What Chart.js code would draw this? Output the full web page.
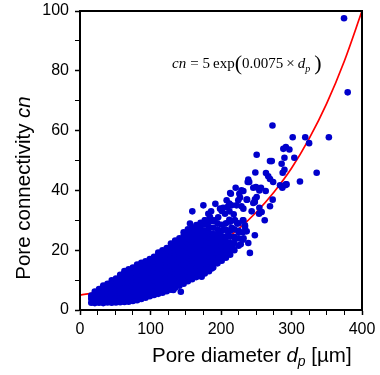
<!DOCTYPE html>
<html lang="en">
<head>
  <meta charset="UTF-8" />
  <title>Pore connectivity vs pore diameter</title>
  <script src="https://cdn.jsdelivr.net/npm/chart.js"></script>
  <style>
    html, body { margin: 0; padding: 0; background: #fff; }
    canvas { display: block; }
  </style>
</head>
<body>
  <canvas id="myChart" width="380" height="375"></canvas>

  <script>
    // axis ticks
    const xMajor = [0, 100, 200, 300, 400];
    const yMajor = [0, 20, 40, 60, 80, 100];

    // fitted curve cn = 5 exp(0.0075 dp)
    const fitDp = [0, 25, 50, 75, 100, 125, 150, 175, 200, 225, 250, 275, 300, 325, 350, 375, 400];
    const fitCn = [5.0, 6.0, 7.3, 8.8, 10.6, 12.8, 15.4, 18.6, 22.4, 27.1, 32.7, 39.4, 47.4, 57.3, 69.1, 83.3, 100];

    // dense part of the cloud, one column of cn values per pore diameter
    const cloudDp = [16, 21, 27, 33, 39, 45, 51, 57, 63, 69, 75, 81, 87, 93, 99, 105, 111, 117, 123, 129,
                     135, 141, 147, 153, 159, 165, 171, 177, 183, 189, 195, 201, 207, 213, 219, 225, 231];
    const cloudCn = [
      [2.4, 3.8, 4.8],
      [2.3, 3.8, 5.3, 6.2],
      [2.4, 4.0, 5.6, 7.0],
      [2.3, 3.9, 5.5, 7.1, 8.2],
      [2.5, 4.1, 5.7, 7.3, 8.8],
      [2.4, 4.0, 5.6, 7.2, 8.8, 9.9],
      [2.5, 4.1, 5.7, 7.3, 8.9, 10.5],
      [2.6, 4.2, 5.8, 7.4, 9.0, 10.6, 11.8],
      [2.7, 4.3, 5.9, 7.5, 9.1, 10.7, 12.3, 13.0],
      [2.8, 4.4, 6.0, 7.6, 9.2, 10.8, 12.4, 13.6],
      [3.0, 4.6, 6.2, 7.8, 9.4, 11.0, 12.6, 14.2],
      [3.3, 4.9, 6.5, 8.1, 9.7, 11.3, 12.9, 14.5, 15.2],
      [3.7, 5.3, 6.9, 8.5, 10.1, 11.7, 13.3, 14.9, 15.8],
      [4.1, 5.7, 7.3, 8.9, 10.5, 12.1, 13.7, 15.3, 16.3],
      [4.6, 6.2, 7.8, 9.4, 11.0, 12.6, 14.2, 15.8, 17.0],
      [5.0, 6.6, 8.2, 9.8, 11.4, 13.0, 14.6, 16.2, 17.8],
      [5.4, 7.0, 8.6, 10.2, 11.8, 13.4, 15.0, 16.6, 18.2, 19.2],
      [5.8, 7.4, 9.0, 10.6, 12.2, 13.8, 15.4, 17.0, 18.6, 20.0],
      [6.3, 7.9, 9.5, 11.1, 12.7, 14.3, 15.9, 17.5, 19.1, 20.7],
      [6.8, 8.4, 10.0, 11.6, 13.2, 14.8, 16.4, 18.0, 19.6, 21.2, 22.2],
      [7.4, 9.0, 10.6, 12.2, 13.8, 15.4, 17.0, 18.6, 20.2, 21.8, 23.2],
      [8.1, 9.7, 11.3, 12.9, 14.5, 16.1, 17.7, 19.3, 20.9, 22.5, 24.0],
      [8.8, 10.4, 12.0, 13.6, 15.2, 16.8, 18.4, 20.0, 21.6, 23.2, 24.8, 26.0],
      [9.6, 11.2, 12.8, 14.4, 16.0, 17.6, 19.2, 20.8, 22.4, 24.0, 25.6, 27.0],
      [10.3, 11.9, 13.5, 15.1, 16.7, 18.3, 19.9, 21.5, 23.1, 24.7, 26.3, 27.6],
      [11.0, 12.6, 14.2, 15.8, 17.4, 19.0, 20.6, 22.2, 23.8, 25.4, 27.0, 28.4],
      [11.4, 13.0, 14.6, 16.2, 17.8, 19.4, 21.0, 22.6, 24.2, 25.8, 27.5, 29.2],
      [12.2, 13.8, 15.4, 17.0, 18.6, 20.2, 21.8, 23.4, 25.0, 26.6, 28.6, 30.0],
      [13.0, 14.6, 16.2, 17.8, 19.4, 21.0, 22.6, 24.2, 25.8, 27.6, 29.4],
      [14.2, 15.8, 17.4, 19.0, 20.6, 22.2, 23.8, 25.4, 27.5, 29.8],
      [15.6, 17.2, 18.8, 20.4, 22.0, 23.6, 25.2, 27.0, 29.0],
      [16.5, 18.1, 19.7, 21.3, 22.9, 24.5, 26.4, 28.5],
      [17.5, 19.5, 21.2, 23.0, 24.6, 26.8, 29.0],
      [18.5, 20.5, 22.4, 24.5, 26.5, 29.5],
      [20.0, 22.5, 24.4, 27.0, 30.0],
      [21.5, 24.0, 26.5, 29.0],
      [23.5, 26.0, 30.0]
    ];

    // scattered points outside the dense band
    const sparseDp = [374.5, 379.7, 301.7, 319.5, 353, 325, 292, 288.4, 297, 273, 250.6, 290, 304, 272, 269.5,
                      286, 290, 287.5, 248.7, 263.8, 267, 269.5, 274, 335.7, 312, 238.7, 237.9, 292, 287, 220.8,
                      229, 231.7, 226, 245.8, 256.7, 254.4, 263.4, 214, 250.6, 248.2, 227, 224.5, 236.4, 208, 211.8,
                      209, 273.3, 245.8, 175, 229, 231.7, 198.6, 203, 254.4, 240, 249.6, 213, 237, 248, 215,
                      159.3, 243.5, 201, 205.7, 182, 184.4, 177.3, 211.8, 219.9, 223, 234, 236.4, 156, 238.7, 241,
                      213.8, 210.3, 248, 262, 257.7, 254, 269.5, 293, 290.8, 283.7, 231.7, 234, 143, 132.4,
                      205, 210, 215, 220, 225, 228, 232, 218, 212, 222, 196, 190, 186, 192,
                      172.6, 186.8, 191.5, 194, 203, 216.5];
    const sparseCn = [97.6, 72.8, 57.8, 57.8, 57.8, 55.8, 54.5, 53.9, 53.7, 61.7, 51.9, 50.9, 50.9, 49.8, 49.8,
                      48.9, 46.9, 45.9, 46.0, 45.8, 44.7, 43.8, 42.8, 45.9, 43.0, 43.6, 42.8, 42.0, 40.9, 40.9,
                      40.0, 39.8, 38.9, 40.9, 40.9, 40.0, 39.8, 38.9, 37.8, 37.0, 37.6, 36.7, 36.9, 36.7, 35.6,
                      34.4, 36.9, 35.8, 35.0, 34.7, 33.9, 33.9, 34.2, 34.2, 42.8, 41.1, 39.1, 36.9, 36.1, 35.0,
                      33.0, 33.0, 33.1, 32.2, 32.2, 31.1, 30.0, 30.2, 30.0, 28.9, 27.8, 26.3, 28.9, 22.4, 19.1,
                      20.2, 19.4, 25.0, 30.0, 32.8, 32.2, 34.7, 42.0, 41.7, 41.7, 30.0, 28.3, 6.1, 6.7,
                      27.0, 25.0, 27.5, 24.0, 26.0, 22.0, 24.0, 32.0, 33.0, 35.0, 31.0, 30.0, 33.0, 35.5,
                      11.1, 13.9, 17.2, 16.7, 18.3, 21.1];

    const points = [];
    cloudDp.forEach((x, i) => cloudCn[i].forEach(y => points.push({ x: x, y: y })));
    sparseDp.forEach((x, i) => points.push({ x: x, y: sparseCn[i] }));
    const fitLine = fitDp.map((x, i) => ({ x: x, y: fitCn[i] }));

    // draw a run of differently styled text pieces left to right
    function drawRuns(ctx, runs, x, y) {
      let cx = x;
      runs.forEach(r => {
        ctx.font = r.font;
        ctx.fillText(r.t, cx, y + (r.dy || 0));
        cx += ctx.measureText(r.t).width + (r.gap || 0);
      });
      return cx - x;
    }
    function runsWidth(ctx, runs) {
      let w = 0;
      runs.forEach(r => { ctx.font = r.font; w += ctx.measureText(r.t).width + (r.gap || 0); });
      return w;
    }

    const labelsPlugin = {
      id: 'labels',
      afterDatasetsDraw(chart) {
        const { ctx, chartArea: a } = chart;
        ctx.save();
        ctx.strokeStyle = '#000';
        ctx.lineWidth = 2;
        ctx.strokeRect(a.left, a.top, a.right - a.left, a.bottom - a.top);
        ctx.restore();
      },
      afterDraw(chart) {
        const { ctx } = chart;
        ctx.save();
        ctx.fillStyle = '#000';
        ctx.textBaseline = 'alphabetic';
        ctx.textAlign = 'left';

        const sans = '"Liberation Sans", Arial, sans-serif';
        const serif = '"Liberation Serif", "Times New Roman", serif';

        // x axis title
        drawRuns(ctx, [
          { t: 'Pore diameter ', font: '20.5px ' + sans },
          { t: 'd', font: 'italic 20.5px ' + sans },
          { t: 'p', font: 'italic 14px ' + sans, dy: 4 },
          { t: ' [\u00b5m]', font: '20.5px ' + sans }
        ], 152, 362);

        // y axis title
        const yRuns = [
          { t: 'Pore connectivity ', font: '20.5px ' + sans },
          { t: 'cn', font: 'italic 20.5px ' + sans }
        ];
        ctx.translate(30, 188);
        ctx.rotate(-Math.PI / 2);
        drawRuns(ctx, yRuns, -runsWidth(ctx, yRuns) / 2, 0);
        ctx.setTransform(1, 0, 0, 1, 0, 0);

        // equation
        drawRuns(ctx, [
          { t: 'cn', font: 'italic 15px ' + serif, gap: 4 },
          { t: '=', font: '15px ' + serif, gap: 4 },
          { t: '5', font: '15px ' + serif, gap: 3 },
          { t: 'exp', font: '15px ' + serif },
          { t: '(', font: '22px ' + serif, dy: 2 },
          { t: '0.0075', font: '15px ' + serif, gap: 3 },
          { t: '\u00d7', font: '15px ' + serif, gap: 3 },
          { t: 'd', font: 'italic 15px ' + serif },
          { t: 'p', font: 'italic 10px ' + serif, dy: 4, gap: 4 },
          { t: ')', font: '22px ' + serif, dy: 2 }
        ], 172, 68);
        ctx.restore();
      }
    };

    const ctx = document.getElementById('myChart').getContext('2d');
    const myChart = new Chart(ctx, {
      type: 'scatter',
      data: {
        datasets: [
          {
            label: 'cn',
            data: points,
            backgroundColor: '#0000CC',
            borderWidth: 0,
            pointRadius: 3.3,
            order: 1
          },
          {
            type: 'line',
            label: 'fit',
            data: fitLine,
            borderColor: '#FF0000',
            borderWidth: 1.7,
            pointRadius: 0,
            fill: false,
            cubicInterpolationMode: 'monotone',
            order: 2
          }
        ]
      },
      options: {
        responsive: false,
        animation: false,
        events: [],
        layout: { padding: { top: 11, right: 18, left: 0, bottom: 0 } },
        plugins: {
          legend: { display: false },
          tooltip: { enabled: false }
        },
        scales: {
          x: {
            type: 'linear',
            min: 0,
            max: 400,
            afterFit: s => { s.height = 65; s.paddingLeft = 0; s.paddingRight = 0; },
            border: { display: true, color: '#000', width: 2 },
            grid: {
              display: true,
              drawOnChartArea: false,
              drawTicks: true,
              tickLength: 5,
              tickColor: '#000',
              tickWidth: c => xMajor.includes(c.tick.value) ? 1.5 : 1
            },
            ticks: {
              stepSize: 25,
              autoSkip: false,
              maxRotation: 0,
              padding: 5,
              color: '#000',
              font: { family: '"Liberation Sans", Arial, sans-serif', size: 16 },
              callback: v => xMajor.includes(v) ? String(v) : ''
            }
          },
          y: {
            type: 'linear',
            min: 0,
            max: 100,
            afterFit: s => { s.width = 80; s.paddingTop = 0; s.paddingBottom = 0; },
            border: { display: true, color: '#000', width: 2 },
            grid: {
              display: true,
              drawOnChartArea: false,
              drawTicks: true,
              tickLength: 5,
              tickColor: '#000',
              tickWidth: c => yMajor.includes(c.tick.value) ? 1.5 : 1
            },
            ticks: {
              stepSize: 10,
              autoSkip: false,
              padding: 6,
              color: '#000',
              font: { family: '"Liberation Sans", Arial, sans-serif', size: 16 },
              callback: v => yMajor.includes(v) ? String(v) : ''
            }
          }
        }
      },
      plugins: [labelsPlugin]
    });
  </script>
</body>
</html>
